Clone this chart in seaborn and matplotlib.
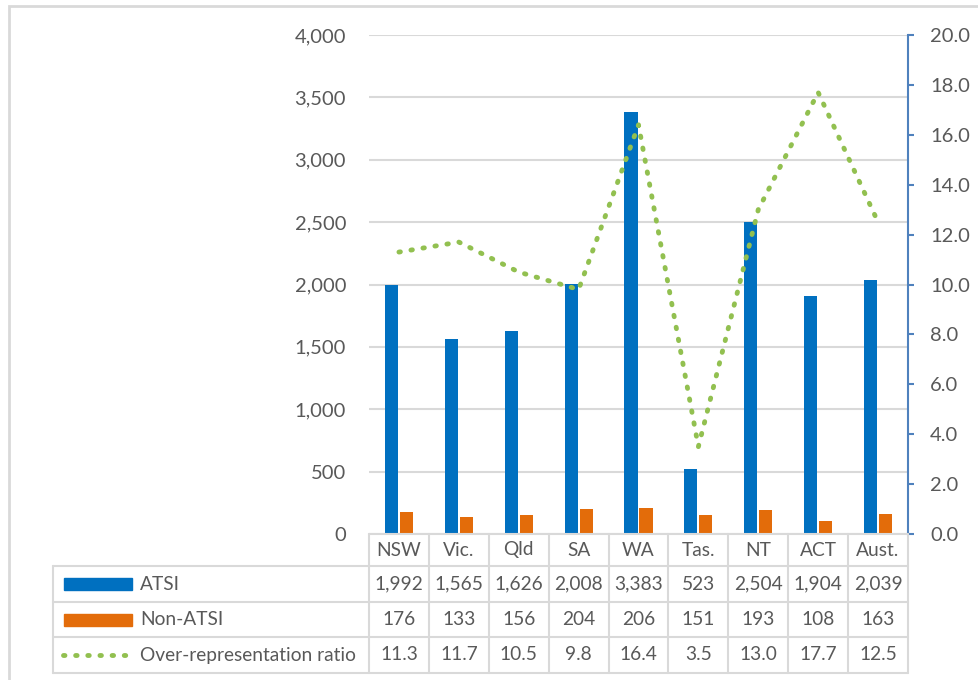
import matplotlib
matplotlib.use("Agg")
import matplotlib.pyplot as plt
import seaborn as sns
import pandas as pd
from matplotlib.lines import Line2D
from matplotlib.patches import Rectangle

# Rates per 100,000 by jurisdiction
regions = ["NSW", "Vic.", "Qld", "SA", "WA", "Tas.", "NT", "ACT", "Aust."]
atsi = [1992, 1565, 1626, 2008, 3383, 523, 2504, 1904, 2039]
non_atsi = [176, 133, 156, 204, 206, 151, 193, 108, 163]
ratio = [11.3, 11.7, 10.5, 9.8, 16.4, 3.5, 13.0, 17.7, 12.5]

left_ticks = [0, 500, 1000, 1500, 2000, 2500, 3000, 3500, 4000]
right_ticks = [0, 2, 4, 6, 8, 10, 12, 14, 16, 18, 20]

BLUE = "#0070C0"
ORANGE = "#E36C0A"
GREEN = "#92C050"
TEXT = "#595959"
GRID = "#D9D9D9"

sns.set_theme(style="white")
plt.rcParams["font.family"] = ["Lato", "DejaVu Sans"]

W, H = 979, 680
fig = plt.figure(figsize=(W / 100, H / 100), dpi=100)


def fx(px):
    return px / W


def fy(py):
    return 1 - py / H


# plot area in pixel bounds
x0, x1, y0, y1 = 369, 908, 35, 534
ax = fig.add_axes([fx(x0), fy(y1), fx(x1) - fx(x0), fy(y0) - fy(y1)])

df = pd.DataFrame({
    "region": regions * 2,
    "rate": atsi + non_atsi,
    "group": ["ATSI"] * len(regions) + ["Non-ATSI"] * len(regions),
})
sns.barplot(data=df, x="region", y="rate", hue="group", order=regions,
            palette=[BLUE, ORANGE], width=0.5, gap=0.12, ax=ax,
            legend=False, saturation=1, edgecolor="none")

ax.set_ylim(0, 4000)
ax.set_xlim(-0.5, len(regions) - 0.5)
ax.set_yticks(left_ticks)
ax.set_yticklabels([f"{v:,}" for v in left_ticks])
ax.set_xticks([])
ax.set_xlabel("")
ax.set_ylabel("")
ax.grid(axis="y", color=GRID, linewidth=1.5)
ax.set_axisbelow(True)
for s in ax.spines.values():
    s.set_visible(False)
ax.tick_params(axis="y", length=0, pad=16.5, labelsize=14.5, labelcolor=TEXT)

ax2 = ax.twinx()
ax2.plot(range(len(regions)), ratio, color=GREEN, linewidth=3.5,
         linestyle=(0, (0.3, 2.2)), dash_capstyle="round")
ax2.set_ylim(0, 20)
ax2.set_yticks(right_ticks)
ax2.set_yticklabels([f"{v:.1f}" for v in right_ticks])
for s in ["top", "left", "bottom"]:
    ax2.spines[s].set_visible(False)
ax2.spines["right"].set_color("#4F81BD")
ax2.spines["right"].set_linewidth(1.5)
ax2.tick_params(axis="y", direction="out", length=4.5, width=1.5,
                color="#4F81BD", pad=11.5, labelsize=14.5, labelcolor=TEXT)
ax2.grid(False)

# outer chart frame
fig.add_artist(Rectangle((fx(9), fy(700)), fx(1100) - fx(9), fy(6) - fy(700),
                         transform=fig.transFigure, fill=False,
                         edgecolor=GRID, linewidth=2))

# data table
col_edges = [369 + i * (x1 - x0) / len(regions) for i in range(len(regions) + 1)]
rows = [534, 566, 602, 637, 673]
tbl_left = 53
lw = 1.5


def hline(xa, xb, y):
    fig.add_artist(Line2D([fx(xa), fx(xb)], [fy(y), fy(y)],
                          transform=fig.transFigure, color=GRID, linewidth=lw))


def vline(x, ya, yb):
    fig.add_artist(Line2D([fx(x), fx(x)], [fy(ya), fy(yb)],
                          transform=fig.transFigure, color=GRID, linewidth=lw))


hline(x0, x1, rows[0])
for y in rows[1:]:
    hline(tbl_left, x1, y)
for x in col_edges:
    vline(x, rows[0], rows[-1])
vline(tbl_left, rows[1], rows[-1])

fs = 13.8
for i, r in enumerate(regions):
    cx = (col_edges[i] + col_edges[i + 1]) / 2
    fig.text(fx(cx), fy((rows[0] + rows[1]) / 2), r, ha="center", va="center",
             fontsize=fs, color=TEXT)
    fig.text(fx(cx), fy((rows[1] + rows[2]) / 2), f"{atsi[i]:,}", ha="center",
             va="center", fontsize=fs, color=TEXT)
    fig.text(fx(cx), fy((rows[2] + rows[3]) / 2), f"{non_atsi[i]:,}", ha="center",
             va="center", fontsize=fs, color=TEXT)
    fig.text(fx(cx), fy((rows[3] + rows[4]) / 2), f"{ratio[i]:.1f}", ha="center",
             va="center", fontsize=fs, color=TEXT)

# legend keys in the table row headers
labels = ["ATSI", "Non-ATSI", "Over-representation ratio"]
for k, (lab, col) in enumerate(zip(labels, [BLUE, ORANGE, GREEN])):
    cy = (rows[k + 1] + rows[k + 2]) / 2
    if k < 2:
        fig.add_artist(Rectangle((fx(64), fy(cy + 6)), fx(132) - fx(64),
                                 fy(cy - 6) - fy(cy + 6),
                                 transform=fig.transFigure, color=col))
    else:
        fig.add_artist(Line2D([fx(63), fx(128)], [fy(cy), fy(cy)],
                              transform=fig.transFigure, color=col,
                              linewidth=3.5, linestyle=(0, (0.3, 2.2)),
                              dash_capstyle="round"))
    fig.text(fx(140), fy(cy), lab, ha="left", va="center", fontsize=fs, color=TEXT)

fig.savefig("out.png", dpi=100)
